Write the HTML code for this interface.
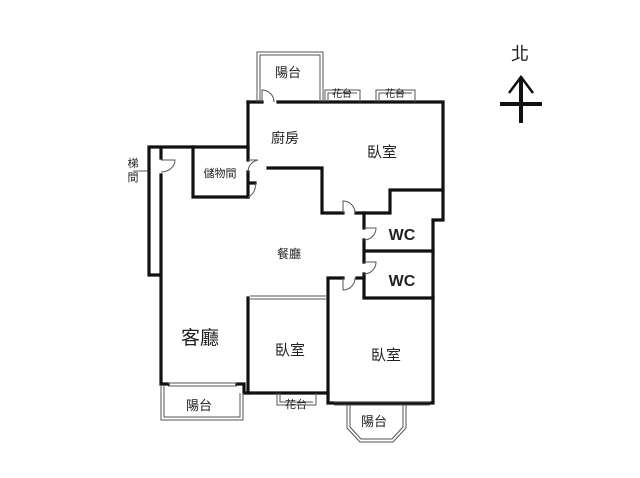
<!DOCTYPE html>
<html><head><meta charset="utf-8"><style>
html,body{margin:0;padding:0;background:#fff;}
svg{display:block}
text{font-family:"Liberation Sans","Noto Sans CJK TC",sans-serif;fill:#222}
</style></head><body>
<svg width="640" height="478" viewBox="0 0 640 478" xmlns="http://www.w3.org/2000/svg">
<g fill="none" stroke="#111" stroke-width="3.2" stroke-linecap="square">
<!-- top walls -->
<path d="M248,102 H262 M278,102 H443 V220 H433 V403 H328 V278 H343"/>
<path d="M357,278 H364"/>
<path d="M248,102 V160 M248,172 V197 M248,183 H255"/>
<path d="M248,147 H149 V275 H161 M161,147 V158 M161,175 V384 H168"/>
<path d="M193,147 V197 H248"/>
<path d="M268,168 H322 V213 H343 M356,213 H390 V190 H441"/>
<path d="M364,213 V228 M364,240 V262 M364,251 H433 M364,274 V298 H433"/>
<path d="M248,298 V393 H328"/>
<path d="M237,384 H244 V393 H248"/>
</g>
<!-- thin windows -->
<g fill="none" stroke="#555" stroke-width="1">
<path d="M250,296 H326 M250,299 H326"/>
<path d="M168,383 H237 M168,386 H237"/>
<path d="M334,402 H430 M334,405 H430"/>
<!-- balconies -->
<path d="M257,102 V52 H323 V102 M260,102 V55 H320 V102"/>
<path d="M325,102 V90 H360 V102 M328,102 V93 H357"/>
<path d="M376,102 V90 H415 V102 M379,102 V93 H412"/>
<path d="M161,386 V420 H243 V393 M164,386 V417 H240 V393"/>
<path d="M277,393 V405 H316 V393 M280,393 V402 H313"/>
<path d="M347,405 V428 L360,442 H393 L406,428 V405 M350,405 V427 L361,439 H392 L403,427 V405"/>
<!-- door arcs -->
<path d="M262,102 V90 A12,12 0 0 1 274,102"/>
<path d="M248,160 H258 A12,12 0 0 0 248,172" />
<path d="M255,183 A12,12 0 0 1 248,197"/>
<path d="M161,160 H175 A14,12 0 0 1 161,172"/>
<path d="M343,213 V201 A12,12 0 0 1 355,213"/>
<path d="M364,228 H376 A12,12 0 0 1 364,240"/>
<path d="M364,262 H376 A12,12 0 0 1 364,274"/>
<path d="M343,278 V290 A12,12 0 0 0 355,278"/>
<path d="M133,171 H148"/>
</g>
<!-- north arrow -->
<g stroke="#111" stroke-width="4" fill="none">
<path d="M521,77 V123 M500,104 H542"/>
<path d="M509,93 L521,77 L533,93" stroke-width="2.5"/>
</g>
<text x="520" y="60" font-size="18" text-anchor="middle">北</text>
<g font-size="13" text-anchor="middle">
<text x="288" y="77">陽台</text>
<text x="285" y="143" font-size="14">廚房</text>
<text x="382" y="157" font-size="15">臥室</text>
<text x="220" y="177" font-size="11">儲物間</text>
<text x="133" y="167" font-size="11">梯</text>
<text x="133" y="181" font-size="11">間</text>
<text x="289" y="258" font-size="12">餐廳</text>
<text x="402" y="240" font-size="16" font-weight="bold">WC</text>
<text x="402" y="286" font-size="16" font-weight="bold">WC</text>
<text x="200" y="344" font-size="19">客廳</text>
<text x="290" y="355" font-size="15">臥室</text>
<text x="386" y="360" font-size="15">臥室</text>
<text x="199" y="410">陽台</text>
<text x="296" y="408" font-size="11">花台</text>
<text x="374" y="426">陽台</text>
<text x="342" y="97" font-size="10">花台</text>
<text x="395" y="97" font-size="10">花台</text>
</g>
</svg>
</body></html>
